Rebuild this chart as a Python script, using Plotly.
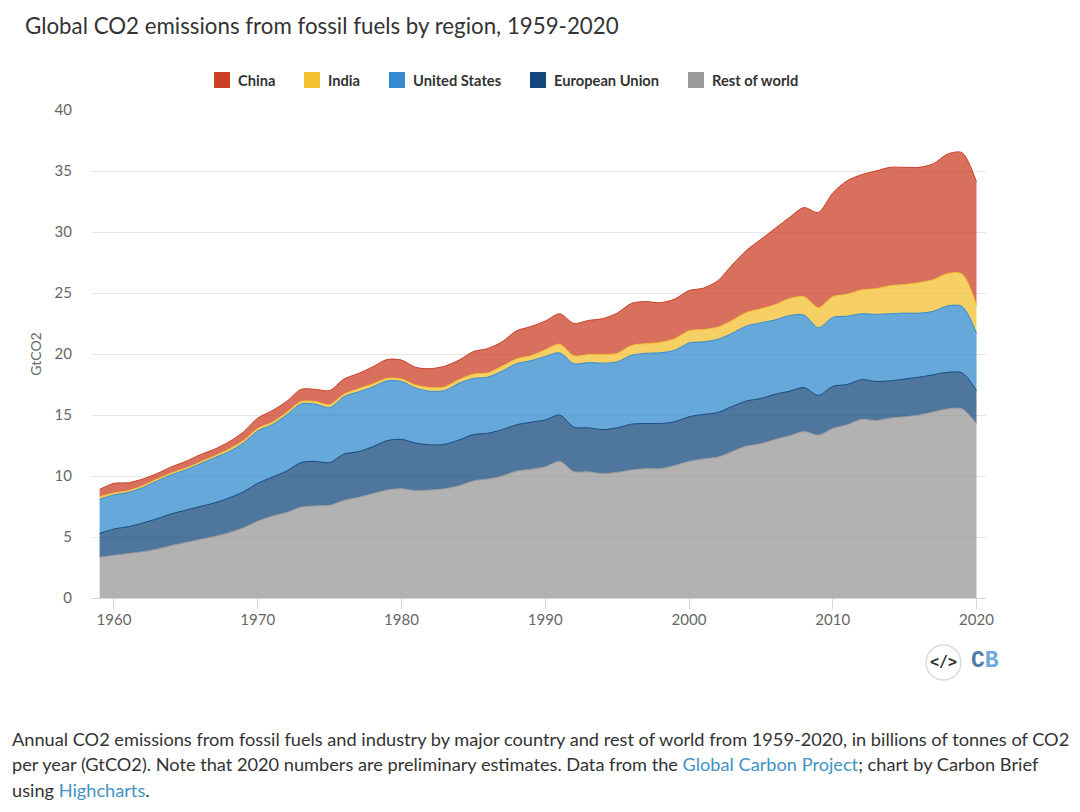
import plotly.graph_objects as go

years = list(range(1959, 2021))

rest_of_world = [3.35, 3.5, 3.65, 3.8, 4.0, 4.3, 4.55, 4.8, 5.05, 5.35, 5.75, 6.3, 6.7, 7.0, 7.45, 7.55,
                 7.6, 8.0, 8.25, 8.55, 8.85, 8.95, 8.8, 8.85, 8.95, 9.2, 9.6, 9.75, 10.0, 10.4, 10.55,
                 10.75, 11.2, 10.35, 10.35, 10.2, 10.3, 10.5, 10.6, 10.6, 10.85, 11.2, 11.4, 11.55,
                 12.0, 12.45, 12.65, 13.0, 13.3, 13.65, 13.35, 13.9, 14.2, 14.65, 14.55, 14.75, 14.85,
                 15.0, 15.25, 15.5, 15.5, 14.3]
european_union = [1.95, 2.15, 2.2, 2.35, 2.5, 2.6, 2.65, 2.7, 2.75, 2.85, 2.95, 3.1, 3.2, 3.4, 3.65, 3.65,
                  3.5, 3.8, 3.75, 3.85, 4.05, 4.05, 3.9, 3.7, 3.65, 3.75, 3.8, 3.75, 3.8, 3.8, 3.85,
                  3.85, 3.8, 3.65, 3.6, 3.6, 3.65, 3.75, 3.7, 3.7, 3.6, 3.65, 3.65, 3.65, 3.7, 3.7,
                  3.7, 3.7, 3.65, 3.6, 3.25, 3.45, 3.3, 3.25, 3.2, 3.05, 3.1, 3.1, 3.05, 3.0, 2.95, 2.7]
united_states = [2.8, 2.8, 2.8, 2.9, 3.1, 3.2, 3.3, 3.5, 3.7, 3.8, 4.0, 4.3, 4.3, 4.6, 4.8, 4.7,
                 4.5, 4.7, 4.9, 4.9, 4.9, 4.75, 4.5, 4.4, 4.4, 4.65, 4.6, 4.6, 4.8, 5.0, 5.05,
                 5.2, 5.1, 5.2, 5.35, 5.45, 5.4, 5.65, 5.75, 5.8, 5.85, 6.05, 5.95, 6.0, 6.0, 6.15,
                 6.2, 6.1, 6.2, 5.95, 5.55, 5.65, 5.6, 5.4, 5.5, 5.5, 5.4, 5.25, 5.2, 5.45, 5.45, 4.7]
india = [0.2, 0.15, 0.15, 0.15, 0.15, 0.15, 0.15, 0.15, 0.15, 0.2, 0.2, 0.2, 0.2, 0.2, 0.2, 0.2,
         0.25, 0.2, 0.25, 0.25, 0.2, 0.2, 0.25, 0.3, 0.3, 0.3, 0.35, 0.35, 0.4, 0.4, 0.4,
         0.55, 0.7, 0.65, 0.65, 0.7, 0.7, 0.8, 0.8, 0.85, 0.95, 1.0, 1.0, 1.0, 1.05, 1.1,
         1.15, 1.25, 1.4, 1.5, 1.65, 1.7, 1.8, 1.95, 2.1, 2.3, 2.35, 2.5, 2.6, 2.65, 2.65, 2.3]
china = [0.6, 0.8, 0.65, 0.55, 0.45, 0.5, 0.55, 0.6, 0.55, 0.6, 0.7, 0.85, 0.95, 0.9, 1.0, 1.0,
         1.15, 1.25, 1.25, 1.4, 1.55, 1.55, 1.45, 1.55, 1.7, 1.6, 1.85, 2.0, 2.0, 2.3, 2.4,
         2.35, 2.5, 2.65, 2.8, 2.95, 3.3, 3.45, 3.45, 3.25, 3.25, 3.3, 3.4, 3.8, 4.55, 5.1,
         5.7, 6.25, 6.65, 7.3, 7.8, 8.5, 9.3, 9.45, 9.65, 9.7, 9.6, 9.45, 9.5, 9.8, 9.95, 10.1]

y_ticks = [0, 5, 10, 15, 20, 25, 30, 35, 40]
x_ticks = [1960, 1970, 1980, 1990, 2000, 2010, 2020]

# drawn bottom to top
series = [
    ("Rest of world", rest_of_world, "154,152,154"),
    ("European Union", european_union, "20,72,124"),
    ("United States", united_states, "51,139,206"),
    ("India", india, "243,192,48"),
    ("China", china, "203,64,39"),
]
legend_items = [("China", 214, 238, "#CB4027"), ("India", 304, 328, "#F3C030"),
                ("United States", 389, 413, "#338BCE"), ("European Union", 530, 554, "#14487C"),
                ("Rest of world", 688, 712, "#9A989A")]

# the page body has an 8px margin, so the figure is 8px smaller and everything sits 8px in
PAGE = 8
W, H = 1080 - PAGE, 812 - PAGE
LEFT, RIGHT, TOP, BOTTOM = 92 - PAGE, 1080 - 986, 110 - PAGE, 812 - 598
BODY = "Lato, 'Noto Sans', sans-serif"

fig = go.Figure()
for name, values, rgb in series:
    fig.add_trace(go.Scatter(
        x=years, y=values, name=name, mode="lines", stackgroup="co2",
        line=dict(color=f"rgb({rgb})", width=1, shape="spline", smoothing=0.8),
        fillcolor=f"rgba({rgb},0.75)", showlegend=False,
        hovertemplate="%{x}: %{y:.2f} GtCO2<extra>" + name + "</extra>",
    ))

fig.update_layout(
    width=W, height=H, autosize=False,
    margin=dict(l=LEFT, r=RIGHT, t=TOP, b=BOTTOM),
    paper_bgcolor="white", plot_bgcolor="white",
    font=dict(family=BODY, size=14, color="#666666"),
    xaxis=dict(range=[1958.47, 2020.66], tickvals=x_ticks, ticks="outside", ticklen=10, tickcolor="#ccd6eb",
               tickwidth=1, showgrid=False, showline=True, linecolor="#ccd6eb", zeroline=False,
               tickfont=dict(size=15, color="#666666"), ticklabelstandoff=-2),
    yaxis=dict(range=[0, 40], tickvals=y_ticks, showgrid=True, gridcolor="#e6e6e6", gridwidth=1.3, zeroline=False,
               ticks="", tickfont=dict(size=15, color="#666666"), ticklabelstandoff=19,
               title=dict(text="GtCO2", font=dict(size=14, color="#666666"), standoff=9)),
)


# page pixels to paper fractions of the plot area
def px(x):
    return (x - PAGE - LEFT) / (W - LEFT - RIGHT)


def py(y):
    return 1 - (y - PAGE - TOP) / (H - TOP - BOTTOM)


def text(t, x, y, size, color="#333333", anchor="left", family=BODY):
    fig.add_annotation(text=t, x=px(x), y=py(y), xref="paper", yref="paper", showarrow=False,
                       xanchor=anchor, yanchor="middle", align="left", xshift=-1 if anchor == "left" else 0,
                       font=dict(family=family, size=size, color=color))


text("Global CO2 emissions from fossil fuels by region, 1959-2020", 24, 26, 22.3)
for name, box_x, text_x, color in legend_items:
    fig.add_shape(type="rect", xref="paper", yref="paper", x0=px(box_x), x1=px(box_x + 16),
                  y0=py(88), y1=py(72), fillcolor=color, line_width=0)
    text(f"<b>{name}</b>", text_x - 1, 79.5, 14.7)

fig.add_shape(type="circle", xref="paper", yref="paper", x0=px(926), x1=px(961), y0=py(680), y1=py(645),
              line=dict(color="#dddddd", width=1.5), fillcolor="white")
text("<b>&lt;/&gt;</b>", 943.5, 662, 15, "#333333", "center", "'DejaVu Sans Mono'")
text("<b><span style='color:#4f7ba6'>C</span><span style='color:#6fa8dc'>B</span></b>", 984.5, 661, 23,
     "#4f7ba6", "center", "'Liberation Mono'")

link = "#3f93c4"
text("Annual CO2 emissions from fossil fuels and industry by major country and rest of world from 1959-2020, "
     "in billions of tonnes of CO2", 11, 739, 18.2)
text("per year (GtCO2). Note that 2020 numbers are preliminary estimates. Data from the "
     f"<span style='color:{link}'>Global Carbon Project</span>; chart by Carbon Brief", 11, 764, 18.2)
text(f"using <span style='color:{link}'>Highcharts</span>.", 11, 790, 18.2)

fig.write_html("out.html")
